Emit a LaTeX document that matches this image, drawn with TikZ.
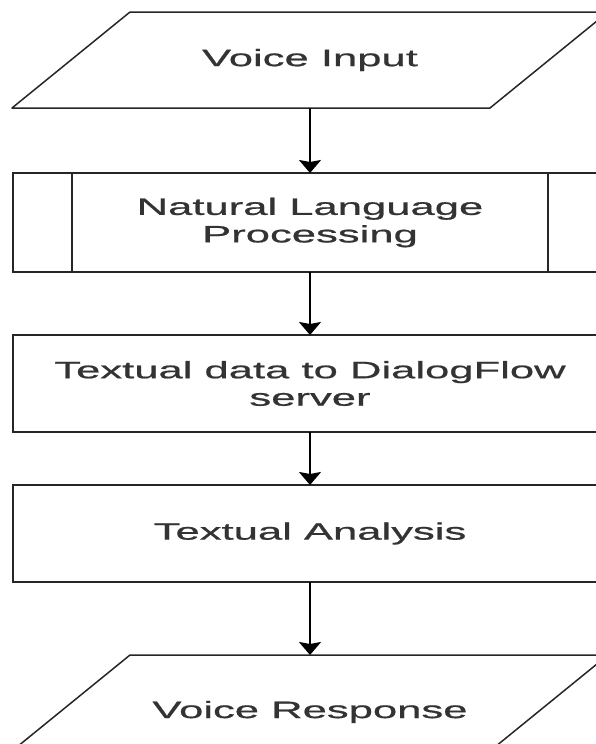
\documentclass[tikz,border=0pt]{standalone}
\usepackage{fontspec}
\newfontfamily\flowfont[FakeStretch=1.84,FakeBold=0.8]{Liberation Sans}
\usetikzlibrary{arrows.meta,positioning}

\begin{document}
\begin{tikzpicture}[x=1pt,y=1pt,>={Stealth[length=13pt,width=22pt,inset=2pt]},node distance=60pt,
	every node/.style={font=\flowfont\fontsize{23.7}{27.5}\selectfont,text=black!80,align=center},
	io/.style={rectangle,minimum width=596pt,minimum height=96pt,inner sep=0pt,outer sep=0pt},
	ioline/.style={draw=black!85,line width=1.5pt,line join=round},
	process/.style={rectangle,draw=black!85,line width=1.5pt,minimum width=594pt,minimum height=97pt,inner sep=0pt,outer sep=0pt}]
	\useasboundingbox (0,0) rectangle (596,-744);
	\node[io]         (vin) at (310,-60) {Voice Input};
	\node[process,minimum height=99pt] (nlp) [below=65pt of vin] {Natural Language\\Processing};
	\node[process]    (dfs) [below=63pt of nlp] {Textual data to DialogFlow\\server};
	\node[process]    (txa) [below=53pt of dfs] {Textual Analysis};
	\node[io,text height=35pt] (vout) [below=73pt of txa] {Voice Response};
	
	% input / output parallelograms
	\foreach \n in {vin,vout}
	\draw[ioline] ([xshift=118pt]\n.north west) -- (\n.north east) -- ([xshift=-118pt]\n.south east) -- (\n.south west) -- cycle;
	
	% side bars of the predefined process
	\draw[black!85,line width=1.5pt] ([xshift=59pt]nlp.north west) -- ([xshift=59pt]nlp.south west)
	([xshift=-59pt]nlp.north east) -- ([xshift=-59pt]nlp.south east);
	
	\path[->,line width=2pt]
	(vin) edge (nlp)
	(nlp) edge (dfs)
	(dfs) edge (txa)
	(txa) edge (vout);
\end{tikzpicture}
\end{document}
